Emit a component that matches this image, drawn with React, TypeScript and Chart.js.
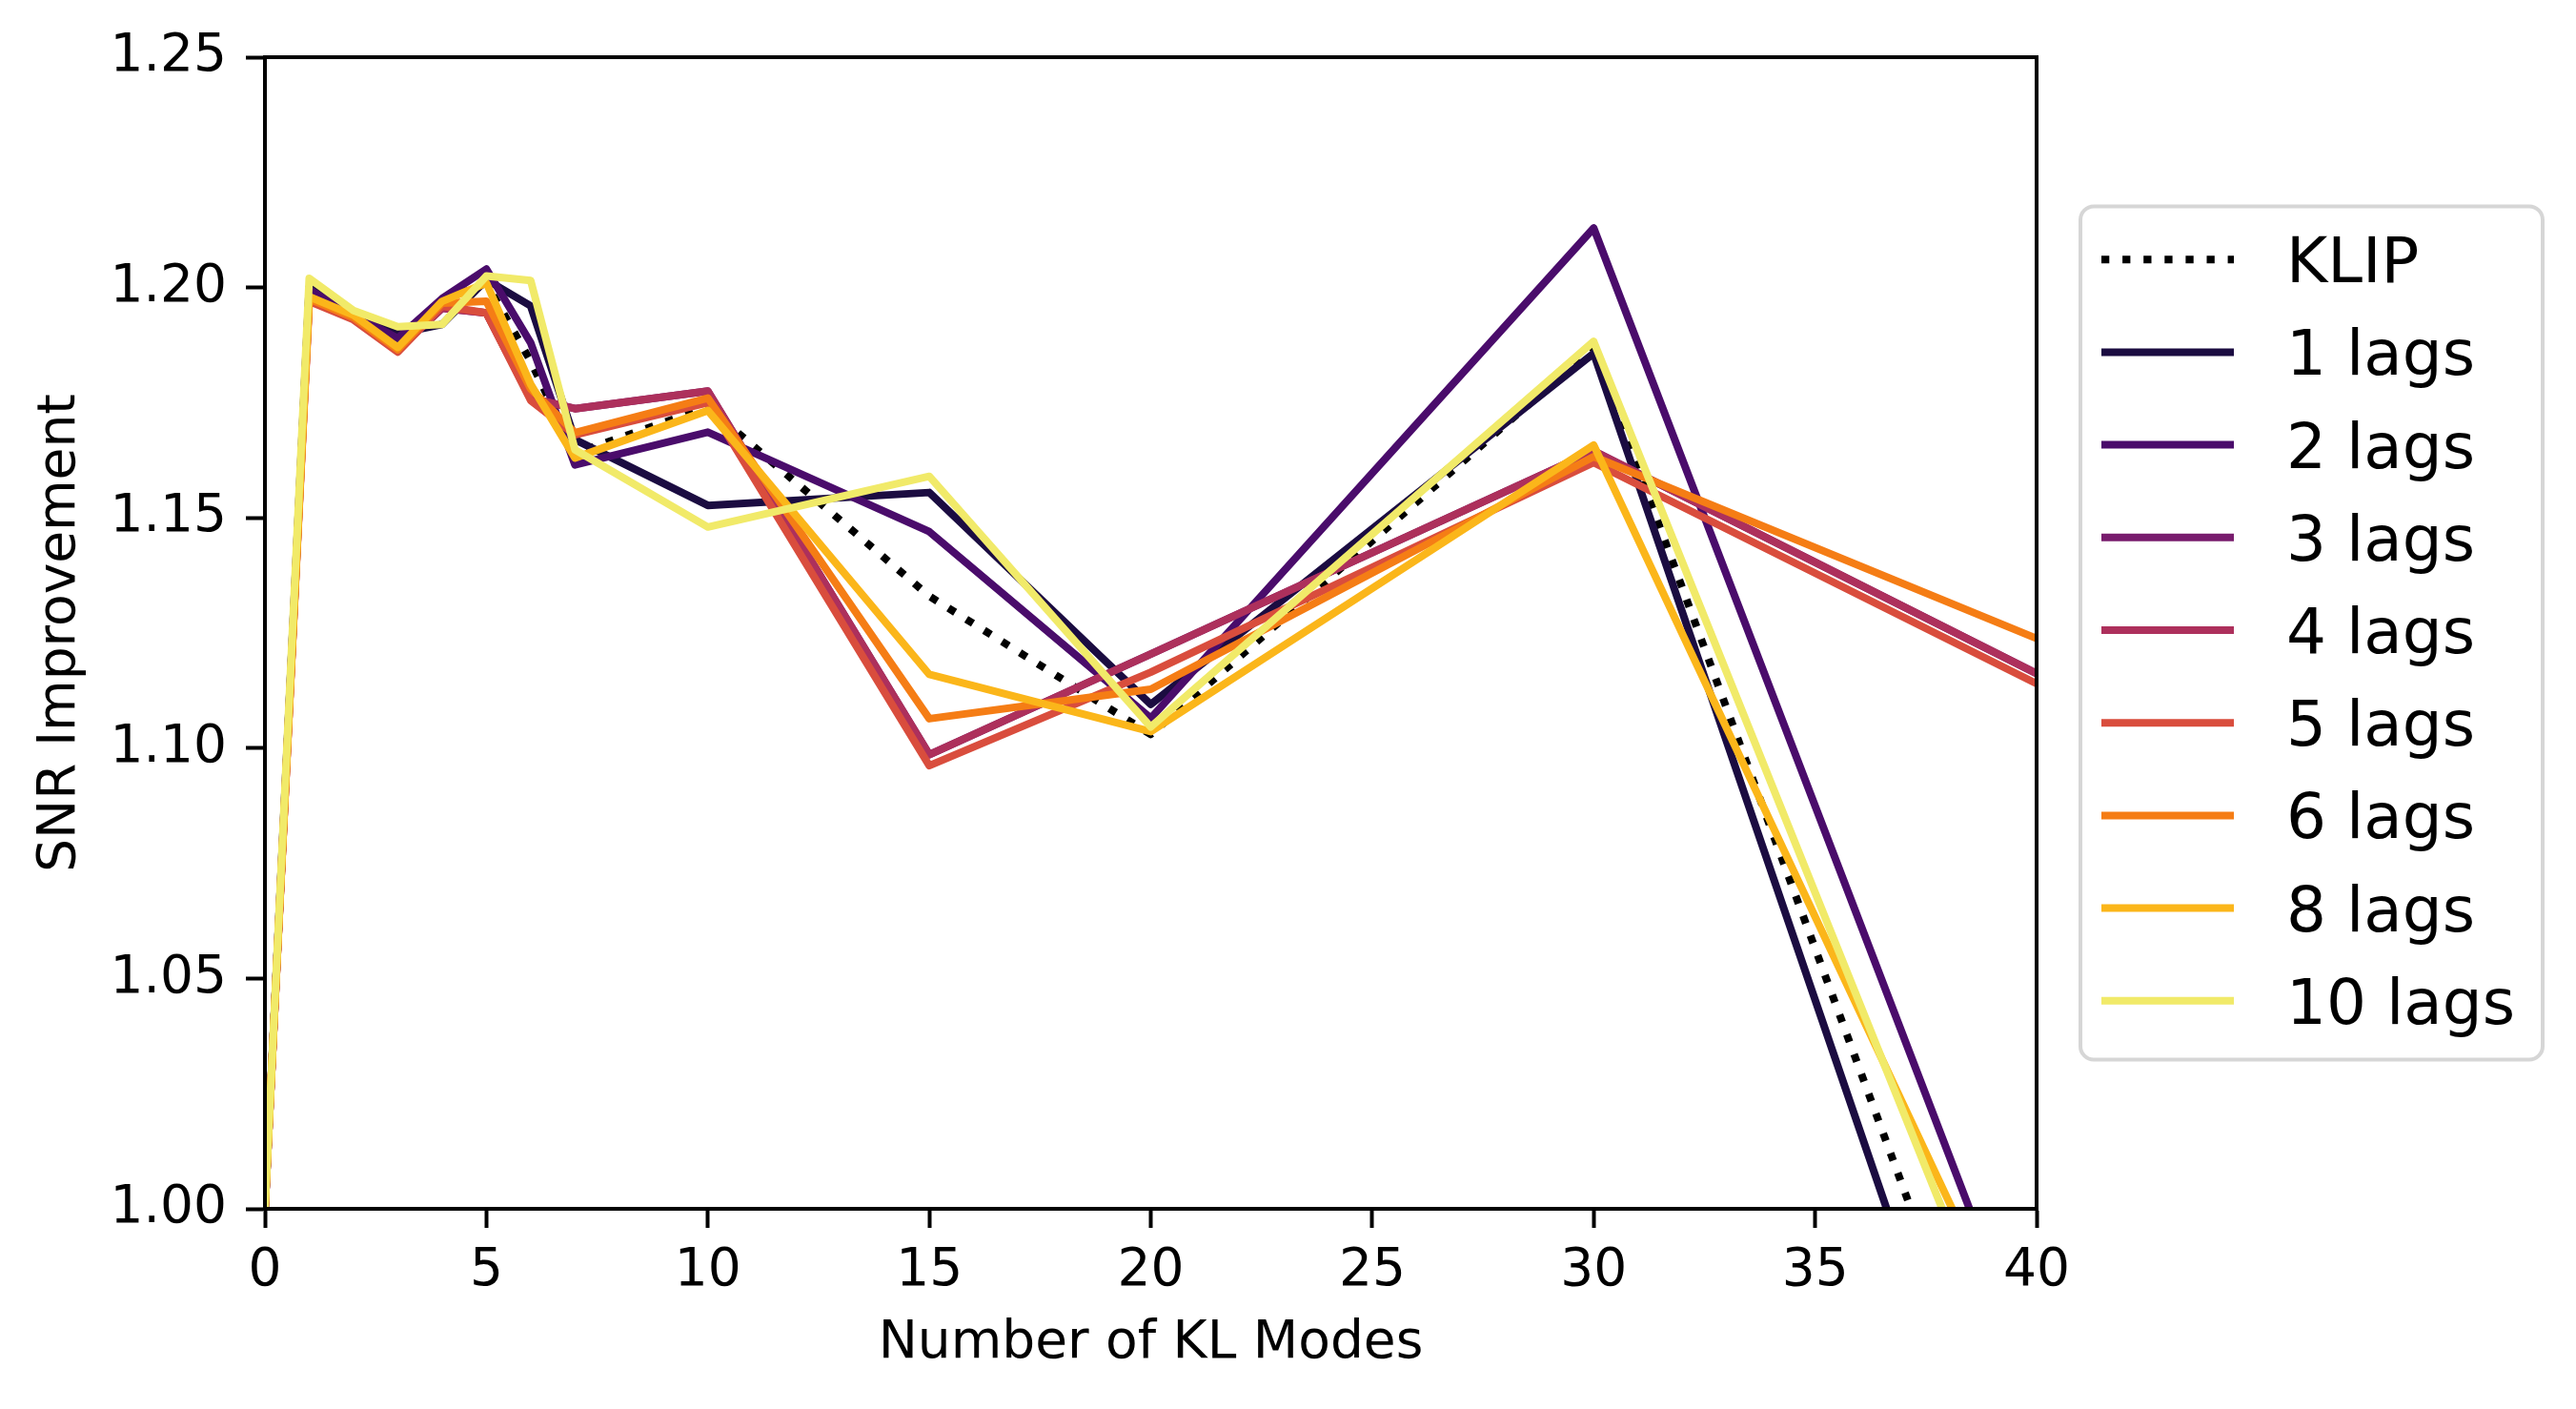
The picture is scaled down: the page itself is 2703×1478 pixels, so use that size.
import React, { useEffect, useRef } from 'react';
import { Chart, registerables } from 'chart.js';

Chart.register(...registerables);

const FONT = 'DejaVu Sans';

// number of KL modes
const klModes = [0, 1, 2, 3, 4, 5, 6, 7, 10, 15, 20, 30, 40];

const klip = [1.0, 1.199, 1.194, 1.189, 1.197, 1.201, 1.184, 1.164, 1.174, 1.133, 1.103, 1.187, 0.926];
const lags1 = [1.0, 1.2, 1.194, 1.19, 1.192, 1.2017, 1.196, 1.167, 1.1527, 1.1555, 1.1095, 1.1857, 0.905];
const lags2 = [1.0, 1.1995, 1.194, 1.189, 1.1976, 1.204, 1.188, 1.1615, 1.1686, 1.147, 1.1065, 1.2129, 0.962];
const lags3 = [1.0, 1.198, 1.1935, 1.1865, 1.1955, 1.1945, 1.176, 1.1737, 1.1775, 1.0986, 1.1204, 1.1645, 1.1162];
const lags4 = [1.0, 1.198, 1.1935, 1.1865, 1.1955, 1.1945, 1.176, 1.1737, 1.1775, 1.0986, 1.1204, 1.1645, 1.1162];
const lags5 = [1.0, 1.197, 1.193, 1.186, 1.196, 1.1945, 1.1755, 1.168, 1.175, 1.0962, 1.1165, 1.162, 1.114];
const lags6 = [1.0, 1.1975, 1.1935, 1.1865, 1.1966, 1.197, 1.178, 1.1685, 1.176, 1.1064, 1.1128, 1.1633, 1.1238];
const lags8 = [1.0, 1.198, 1.194, 1.187, 1.197, 1.201, 1.179, 1.163, 1.1733, 1.116, 1.1036, 1.1658, 0.961];
const lags10 = [1.0, 1.202, 1.195, 1.1915, 1.192, 1.2025, 1.2015, 1.1648, 1.148, 1.159, 1.1046, 1.1883, 0.949];

const seriesLabels = ['KLIP', '1 lags', '2 lags', '3 lags', '4 lags', '5 lags', '6 lags', '8 lags', '10 lags'];
const seriesValues = [klip, lags1, lags2, lags3, lags4, lags5, lags6, lags8, lags10];
const seriesColors = ['#000000', '#1b0c41', '#4a0c6b', '#781c6d', '#ad305c', '#d94d3d', '#f57d15', '#fbb61a', '#f1ea69'];

const DOT = [8.3, 13.8];

// box around the axes, drawn over the lines like matplotlib spines
const framePlugin = {
    id: 'frame',
    afterDatasetsDraw(chart: any) {
        const { ctx, chartArea } = chart;
        ctx.save();
        ctx.strokeStyle = '#000';
        ctx.lineWidth = 4;
        ctx.strokeRect(chartArea.left, chartArea.top, chartArea.right - chartArea.left, chartArea.bottom - chartArea.top);
        ctx.restore();
    }
};

// matplotlib-like legend outside on the right
const legendPlugin = {
    id: 'sideLegend',
    afterDraw(chart: any) {
        const { ctx, chartArea } = chart;
        const sets = chart.data.datasets;
        const fontSize = 66;
        const spacing = 97.2;
        const left = chartArea.right + 46;
        const width = 485;
        const midY = (chartArea.top + chartArea.bottom) / 2;
        const height = 895;
        const top = midY - height / 2;
        const r = 14;

        ctx.save();
        ctx.beginPath();
        ctx.moveTo(left + r, top);
        ctx.arcTo(left + width, top, left + width, top + height, r);
        ctx.arcTo(left + width, top + height, left, top + height, r);
        ctx.arcTo(left, top + height, left, top, r);
        ctx.arcTo(left, top, left + width, top, r);
        ctx.closePath();
        ctx.fillStyle = 'rgba(255,255,255,0.8)';
        ctx.fill();
        ctx.strokeStyle = '#d6d6d6';
        ctx.lineWidth = 4;
        ctx.stroke();

        const y0 = midY - spacing * (sets.length - 1) / 2 - 3;
        sets.forEach((ds: any, i: number) => {
            const y = y0 + i * spacing;
            ctx.beginPath();
            ctx.strokeStyle = ds.borderColor;
            ctx.lineWidth = 8;
            ctx.lineCap = 'butt';
            ctx.setLineDash(ds.borderDash || []);
            ctx.moveTo(left + 22, y);
            ctx.lineTo(left + 161, y);
            ctx.stroke();
            ctx.setLineDash([]);
            ctx.fillStyle = '#000';
            ctx.font = `${fontSize}px "${FONT}"`;
            ctx.textBaseline = 'alphabetic';
            ctx.textAlign = 'left';
            ctx.fillText(ds.label, left + 216, y + fontSize * 0.365);
        });
        ctx.restore();
    }
};

const SnrChart: React.FC = () => {
    const canvasRef = useRef<HTMLCanvasElement | null>(null);

    useEffect(() => {
        if (!canvasRef.current) return;
        const ctx = canvasRef.current.getContext('2d');
        if (!ctx) return;

        const n = seriesLabels.length;
        const datasets = seriesLabels.map((label, i) => ({
            label,
            data: klModes.map((x, j) => ({ x, y: seriesValues[i][j] })),
            borderColor: seriesColors[i],
            backgroundColor: seriesColors[i],
            borderWidth: 8,
            borderDash: i === 0 ? DOT : undefined,
            borderCapStyle: i === 0 ? 'butt' : 'square',
            borderJoinStyle: 'round',
            pointRadius: 0,
            tension: 0,
            fill: false,
            clip: 0,
            order: n - i,
        }));

        const tickFont = { family: FONT, size: 55 };

        const chart = new Chart(ctx, {
            type: 'line',
            data: { datasets } as any,
            plugins: [framePlugin, legendPlugin],
            options: {
                animation: false,
                responsive: true,
                maintainAspectRatio: false,
                devicePixelRatio: 1,
                events: [],
                layout: { padding: { left: 0, top: 60, right: 566, bottom: 0 } },
                plugins: {
                    legend: { display: false },
                    tooltip: { enabled: false },
                },
                scales: {
                    x: {
                        type: 'linear',
                        min: 0,
                        max: 40,
                        ticks: {
                            stepSize: 5,
                            color: '#000',
                            font: tickFont,
                            padding: 13,
                            maxRotation: 0,
                            autoSkip: false,
                        },
                        grid: {
                            display: true,
                            drawOnChartArea: false,
                            drawTicks: true,
                            tickLength: 20,
                            tickWidth: 4,
                            tickColor: '#000',
                        },
                        border: { display: true, color: '#000', width: 4 },
                        title: {
                            display: true,
                            text: 'Number of KL Modes',
                            color: '#000',
                            font: tickFont,
                            padding: { top: 0, bottom: 35 },
                        },
                        afterFit: (scale: any) => { scale.height = 210; },
                    },
                    y: {
                        type: 'linear',
                        min: 1,
                        max: 1.25,
                        ticks: {
                            stepSize: 0.05,
                            color: '#000',
                            font: tickFont,
                            padding: 20,
                            callback: (v: any) => Number(v).toFixed(2),
                        },
                        grid: {
                            display: true,
                            drawOnChartArea: false,
                            drawTicks: true,
                            tickLength: 20,
                            tickWidth: 4,
                            tickColor: '#000',
                        },
                        border: { display: true, color: '#000', width: 4 },
                        title: {
                            display: true,
                            text: 'SNR Improvement',
                            color: '#000',
                            font: tickFont,
                            padding: { top: 31, bottom: 0 },
                        },
                        afterFit: (scale: any) => { scale.width = 278; },
                    },
                },
            } as any,
        });

        return () => {
            chart.destroy();
        };
    }, []);

    return (
        <div style={{ position: 'fixed', left: 0, top: 0, width: 2703, height: 1478, background: '#fff' }}>
            <canvas ref={canvasRef}></canvas>
        </div>
    );
};

export default function App() {
    return <SnrChart />;
}
